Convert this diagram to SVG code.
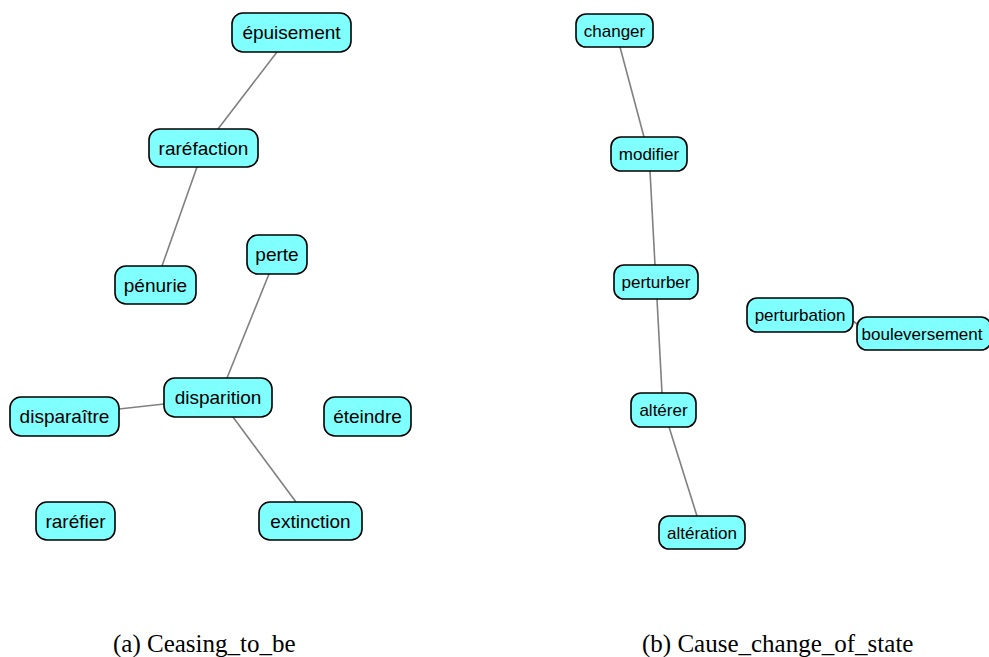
<svg xmlns="http://www.w3.org/2000/svg" width="989" height="657" viewBox="0 0 989 657">
  <style>
    .node rect { fill: #80ffff; stroke: #000; stroke-width: 1.6; }
    .node text { font-family: "Liberation Sans", Arial, sans-serif; fill: #000; text-anchor: middle; }
    .left text { font-size: 19px; }
    .right text { font-size: 17px; }
    .edges line { stroke: #808080; stroke-width: 1.6; }
    .caption { font-family: "Liberation Serif", "Times New Roman", serif; font-size: 25px; fill: #000; }
  </style>
  <rect width="989" height="657" fill="#fff"/>

  <!-- connectors -->
  <g id="edges" class="edges">
    <line x1="277" y1="52" x2="218" y2="129"/>
    <line x1="197" y1="167" x2="162" y2="266"/>
    <line x1="269" y1="274" x2="227" y2="378"/>
    <line x1="119" y1="409" x2="164" y2="404"/>
    <line x1="233" y1="417" x2="296" y2="502"/>
    <line x1="620" y1="47" x2="644" y2="137"/>
    <line x1="650" y1="171" x2="655" y2="265"/>
    <line x1="657" y1="299" x2="662" y2="393"/>
    <line x1="669" y1="427" x2="697" y2="516"/>
    <line x1="853" y1="321" x2="857" y2="324"/>
  </g>

  <!-- (a) Ceasing_to_be -->
  <g id="n-epuisement" class="node left"><rect x="232" y="13" width="119" height="39" rx="11"/><text x="291.5" y="39">épuisement</text></g>
  <g id="n-rarefaction" class="node left"><rect x="149" y="129" width="109" height="38" rx="11"/><text x="203.5" y="154.5">raréfaction</text></g>
  <g id="n-penurie" class="node left"><rect x="115" y="266" width="81" height="38" rx="11"/><text x="155.5" y="291.5">pénurie</text></g>
  <g id="n-perte" class="node left"><rect x="247" y="235" width="60" height="39" rx="11"/><text x="277" y="261">perte</text></g>
  <g id="n-disparition" class="node left"><rect x="164" y="378" width="108" height="39" rx="11"/><text x="218" y="404">disparition</text></g>
  <g id="n-disparaitre" class="node left"><rect x="10" y="397" width="109" height="39" rx="11"/><text x="64.5" y="423">disparaître</text></g>
  <g id="n-eteindre" class="node left"><rect x="324" y="397" width="87" height="39" rx="11"/><text x="367.5" y="423">éteindre</text></g>
  <g id="n-rarefier" class="node left"><rect x="36" y="502" width="79" height="38" rx="11"/><text x="75.5" y="527.5">raréfier</text></g>
  <g id="n-extinction" class="node left"><rect x="259" y="502" width="103" height="38" rx="11"/><text x="310.5" y="527.5">extinction</text></g>

  <!-- (b) Cause_change_of_state -->
  <g id="n-changer" class="node right"><rect x="576" y="14" width="77" height="33" rx="10"/><text x="614.5" y="36.5">changer</text></g>
  <g id="n-modifier" class="node right"><rect x="611" y="137" width="76" height="34" rx="10"/><text x="649" y="160">modifier</text></g>
  <g id="n-perturber" class="node right"><rect x="614" y="265" width="84" height="34" rx="10"/><text x="656" y="288">perturber</text></g>
  <g id="n-perturbation" class="node right"><rect x="747" y="298" width="106" height="34" rx="10"/><text x="800" y="321">perturbation</text></g>
  <g id="n-bouleversement" class="node right"><rect x="857" y="317" width="134" height="33" rx="10"/><text x="922" y="339.5">bouleversement</text></g>
  <g id="n-alterer" class="node right"><rect x="631" y="393" width="65" height="34" rx="10"/><text x="663.5" y="416">altérer</text></g>
  <g id="n-alteration" class="node right"><rect x="659" y="516" width="86" height="33" rx="10"/><text x="702" y="538.5">altération</text></g>

  <!-- captions -->
  <text class="caption" x="113" y="652">(a) Ceasing_to_be</text>
  <text class="caption" x="642" y="652">(b) Cause_change_of_state</text>
</svg>
